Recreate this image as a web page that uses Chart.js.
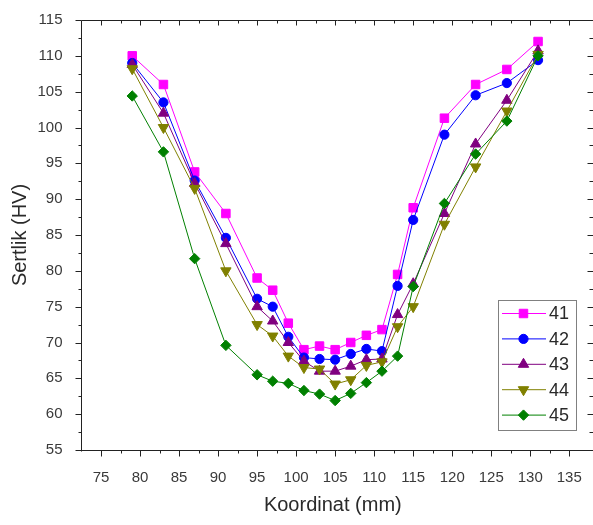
<!DOCTYPE html>
<html>
<head>
<meta charset="utf-8">
<script src="https://cdn.jsdelivr.net/npm/chart.js@4.4.1/dist/chart.umd.min.js"></script>
<style>
html,body{margin:0;padding:0;background:#fff;}
canvas{display:block;}
</style>
</head>
<body>
<canvas id="c" width="593" height="525"></canvas>
<script>
// ---- data ----
const coords = [79, 83, 87, 91, 95, 97, 99, 101, 103, 105, 107, 109, 111, 113, 115, 119, 123, 127, 131];
const s41 = [110.0, 106.0, 93.8, 88.0, 79.0, 77.3, 72.7, 69.0, 69.5, 69.0, 70.0, 71.0, 71.8, 79.5, 88.8, 101.3, 106.0, 108.1, 112.0];
const s42 = [109.0, 103.5, 92.6, 84.6, 76.1, 75.0, 70.8, 67.9, 67.7, 67.6, 68.4, 69.1, 68.8, 77.9, 87.1, 99.0, 104.5, 106.2, 109.4];
const s43 = [108.8, 102.0, 92.2, 83.8, 75.0, 73.0, 70.0, 67.4, 66.0, 66.0, 66.7, 67.6, 67.7, 73.9, 78.2, 88.0, 97.7, 103.8, 110.7];
const s44 = [108.2, 100.0, 91.5, 80.0, 72.5, 70.9, 68.1, 66.5, 66.3, 64.2, 64.8, 66.8, 67.3, 72.2, 75.0, 86.5, 94.5, 102.3, 110.2];
const s45 = [104.4, 96.6, 81.7, 69.6, 65.5, 64.6, 64.3, 63.3, 62.8, 61.9, 62.9, 64.4, 66.0, 68.1, 77.8, 89.4, 96.3, 100.9, 110.0];
const seriesNames = ['41', '42', '43', '44', '45'];
const xTicks = [75, 80, 85, 90, 95, 100, 105, 110, 115, 120, 125, 130, 135];
const yTicks = [55, 60, 65, 70, 75, 80, 85, 90, 95, 100, 105, 110, 115];
const xTitle = 'Koordinat (mm)';
const yTitle = 'Sertlik (HV)';

// ---- styles ----
const colors = ['#FF00FF', '#0000FF', '#800080', '#808000', '#008000'];
const styles = ['rect', 'circle', 'triangle', 'triangle', 'rectRot'];
const rotations = [0, 0, 0, 180, 0];
const radii = [6, 4.6, 6, 6, 5.2];
const FONT = "'Liberation Sans', Arial, sans-serif";
const TXT = '#2a2a2a';

const allSeries = [s41, s42, s43, s44, s45];
const datasets = allSeries.map((s, i) => ({
  label: seriesNames[i],
  data: coords.map((c, j) => ({x: c, y: s[j]})),
  borderColor: colors[i],
  backgroundColor: colors[i],
  borderWidth: 1,
  pointStyle: styles[i],
  pointRotation: rotations[i],
  pointRadius: radii[i],
  pointBorderWidth: 1,
  pointBackgroundColor: colors[i],
  pointBorderColor: colors[i],
  tension: 0,
  order: 5 - i
}));

function minorsOf(ticks) {
  const out = [];
  for (let i = 0; i < ticks.length; i++) out.push(ticks[i] + (ticks[1] - ticks[0]) / 2);
  out.push(ticks[0] - (ticks[1] - ticks[0]) / 2);
  return out;
}

const framePlugin = {
  id: 'frame',
  afterDatasetsDraw(chart) {
    const {ctx, chartArea: a, scales: {x, y}} = chart;
    ctx.save();
    ctx.strokeStyle = '#222';
    ctx.lineWidth = 1;
    const L = 81.5, R = 593.5, T = a.top + 0.5, B = a.bottom + 0.5;
    ctx.beginPath();
    ctx.moveTo(L, T); ctx.lineTo(R, T);
    ctx.moveTo(L, T); ctx.lineTo(L, B + 1);
    ctx.moveTo(L - 0.5, B); ctx.lineTo(R, B);
    xTicks.forEach(v => {
      const px = Math.round(x.getPixelForValue(v)) + 0.5;
      ctx.moveTo(px, B); ctx.lineTo(px, B + 6);
      ctx.moveTo(px, T); ctx.lineTo(px, T + 5);
    });
    minorsOf(xTicks).forEach(v => {
      if (v <= x.min || v >= x.max) return;
      const px = Math.round(x.getPixelForValue(v)) + 0.5;
      ctx.moveTo(px, B); ctx.lineTo(px, B + 3);
      ctx.moveTo(px, T); ctx.lineTo(px, T + 3);
    });
    yTicks.forEach(v => {
      const py = Math.round(y.getPixelForValue(v)) + 0.5;
      ctx.moveTo(L, py); ctx.lineTo(L - 6, py);
      ctx.moveTo(R, py); ctx.lineTo(R - 6, py);
    });
    minorsOf(yTicks).forEach(v => {
      if (v <= y.min || v >= y.max) return;
      const py = Math.round(y.getPixelForValue(v)) + 0.5;
      ctx.moveTo(L, py); ctx.lineTo(L - 3, py);
      ctx.moveTo(R, py); ctx.lineTo(R - 4, py);
    });
    ctx.stroke();
    ctx.restore();
  },
  afterDraw(chart) {
    const ctx = chart.ctx;
    ctx.save();
    const bx = 498.5, by = 300.5, bw = 78, bh = 130;
    ctx.fillStyle = '#fff';
    ctx.fillRect(bx, by, bw, bh);
    ctx.strokeStyle = '#808080';
    ctx.lineWidth = 1;
    ctx.strokeRect(bx, by, bw, bh);
    chart.data.datasets.forEach((ds, i) => {
      const yy = 313.5 + i * 25.4;
      ctx.strokeStyle = ds.borderColor;
      ctx.lineWidth = 1;
      ctx.beginPath();
      ctx.moveTo(502, yy); ctx.lineTo(546, yy);
      ctx.stroke();
      ctx.fillStyle = ds.pointBackgroundColor;
      ctx.strokeStyle = ds.pointBorderColor;
      Chart.helpers.drawPoint(ctx, {pointStyle: ds.pointStyle, rotation: ds.pointRotation, radius: ds.pointRadius, borderWidth: 1}, 523.5, yy);
      ctx.fillStyle = TXT;
      ctx.font = '18px ' + FONT;
      ctx.textBaseline = 'middle';
      ctx.textAlign = 'left';
      ctx.fillText(ds.label, 549, yy + 1);
    });
    ctx.restore();
  }
};

new Chart(document.getElementById('c'), {
  type: 'line',
  data: {datasets},
  plugins: [framePlugin],
  options: {
    responsive: false,
    animation: false,
    devicePixelRatio: 1,
    layout: {padding: {top: 15, right: 0, bottom: 0, left: 0}},
    plugins: {legend: {display: false}, tooltip: {enabled: false}},
    scales: {
      x: {
        type: 'linear',
        min: 72.5,
        max: 136.9,
        afterBuildTicks: s => { s.ticks = xTicks.map(v => ({value: v})); },
        afterFit: s => { s.height = 75; },
        grid: {display: false},
        border: {display: false},
        ticks: {color: '#3a3a3a', font: {family: FONT, size: 15}, padding: 11, maxRotation: 0, autoSkip: false},
        title: {display: true, text: xTitle, color: TXT, font: {family: FONT, size: 20}, padding: {top: 0, bottom: 8}}
      },
      y: {
        type: 'linear',
        min: 55,
        max: 115,
        afterBuildTicks: s => { s.ticks = yTicks.map(v => ({value: v})); },
        afterFit: s => { s.width = 81.5; },
        grid: {display: false},
        border: {display: false},
        ticks: {color: '#3a3a3a', font: {family: FONT, size: 15}, padding: 11, autoSkip: false},
        title: {display: true, text: yTitle, color: TXT, font: {family: FONT, size: 20}, padding: {top: 8, bottom: 0}}
      }
    }
  }
});
</script>
</body>
</html>
